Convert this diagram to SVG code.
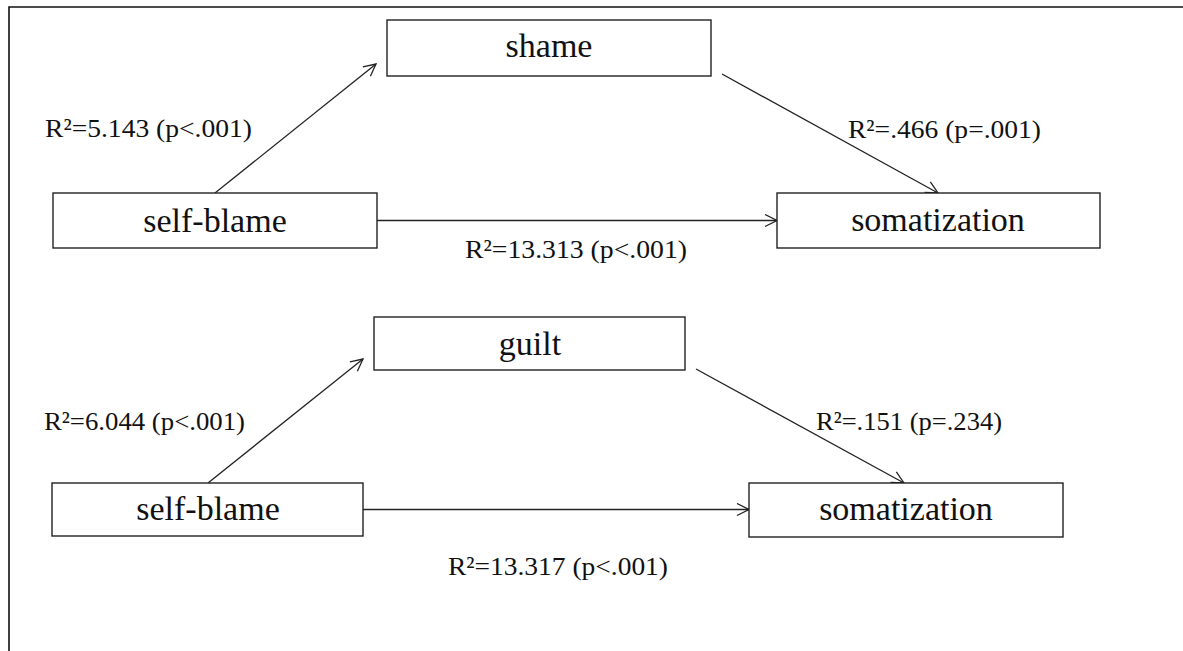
<svg xmlns="http://www.w3.org/2000/svg" width="1183" height="651" viewBox="0 0 1183 651">
<style>
.box{fill:#fff;stroke:#222;stroke-width:1.4}
.node{font-family:'Liberation Serif','DejaVu Serif',serif;font-size:34px;fill:#111;text-anchor:middle}
.lbl{font-family:'Liberation Serif','DejaVu Serif',serif;font-size:26px;fill:#111}
.edge{stroke:#222;stroke-width:1.3;fill:none;marker-end:url(#arr)}
</style>
<defs>
<marker id="arr" viewBox="0 0 14 14" refX="13" refY="7" markerWidth="14" markerHeight="14" markerUnits="userSpaceOnUse" orient="auto">
<path d="M1,1 L13,7 L1,13" fill="none" stroke="#222" stroke-width="1.3"/>
</marker>
</defs>
<rect width="1183" height="651" fill="#fff"/>
<g id="frame">
<path d="M9,651 L9,7 L1183,7" fill="none" stroke="#111" stroke-width="1.6"/>
</g>
<g id="connectors">
<line class="edge" x1="215" y1="193" x2="376" y2="64"/>
<line class="edge" x1="722" y1="74" x2="938" y2="193"/>
<line class="edge" x1="377" y1="220.5" x2="777" y2="220.5"/>
<line class="edge" x1="208" y1="483" x2="363" y2="359"/>
<line class="edge" x1="696" y1="369" x2="904" y2="483"/>
<line class="edge" x1="363" y1="509.5" x2="749" y2="509.5"/>
</g>
<g id="labels">
<text class="lbl" x="45" y="137" textLength="207" lengthAdjust="spacingAndGlyphs">R²=5.143 (p&lt;.001)</text>
<text class="lbl" x="848" y="138" textLength="193" lengthAdjust="spacingAndGlyphs">R²=.466 (p=.001)</text>
<text class="lbl" x="465" y="258" textLength="222" lengthAdjust="spacingAndGlyphs">R²=13.313 (p&lt;.001)</text>
<text class="lbl" x="44" y="430" textLength="201" lengthAdjust="spacingAndGlyphs">R²=6.044 (p&lt;.001)</text>
<text class="lbl" x="816" y="430" textLength="186" lengthAdjust="spacingAndGlyphs">R²=.151 (p=.234)</text>
<text class="lbl" x="448" y="575" textLength="220" lengthAdjust="spacingAndGlyphs">R²=13.317 (p&lt;.001)</text>
</g>
<g id="node-shame">
<rect class="box" x="387" y="20" width="324" height="56"/>
<text class="node" x="549" y="57">shame</text>
</g>
<g id="node-selfblame1">
<rect class="box" x="53" y="193" width="324" height="55"/>
<text class="node" x="215" y="232">self-blame</text>
</g>
<g id="node-somatization1">
<rect class="box" x="777" y="193" width="323" height="55"/>
<text class="node" x="938" y="231">somatization</text>
</g>
<g id="node-guilt">
<rect class="box" x="374" y="317" width="311" height="53"/>
<text class="node" x="530" y="355">guilt</text>
</g>
<g id="node-selfblame2">
<rect class="box" x="52" y="483" width="311" height="53"/>
<text class="node" x="208" y="520">self-blame</text>
</g>
<g id="node-somatization2">
<rect class="box" x="749" y="483" width="314" height="54"/>
<text class="node" x="906" y="520">somatization</text>
</g>
</svg>
